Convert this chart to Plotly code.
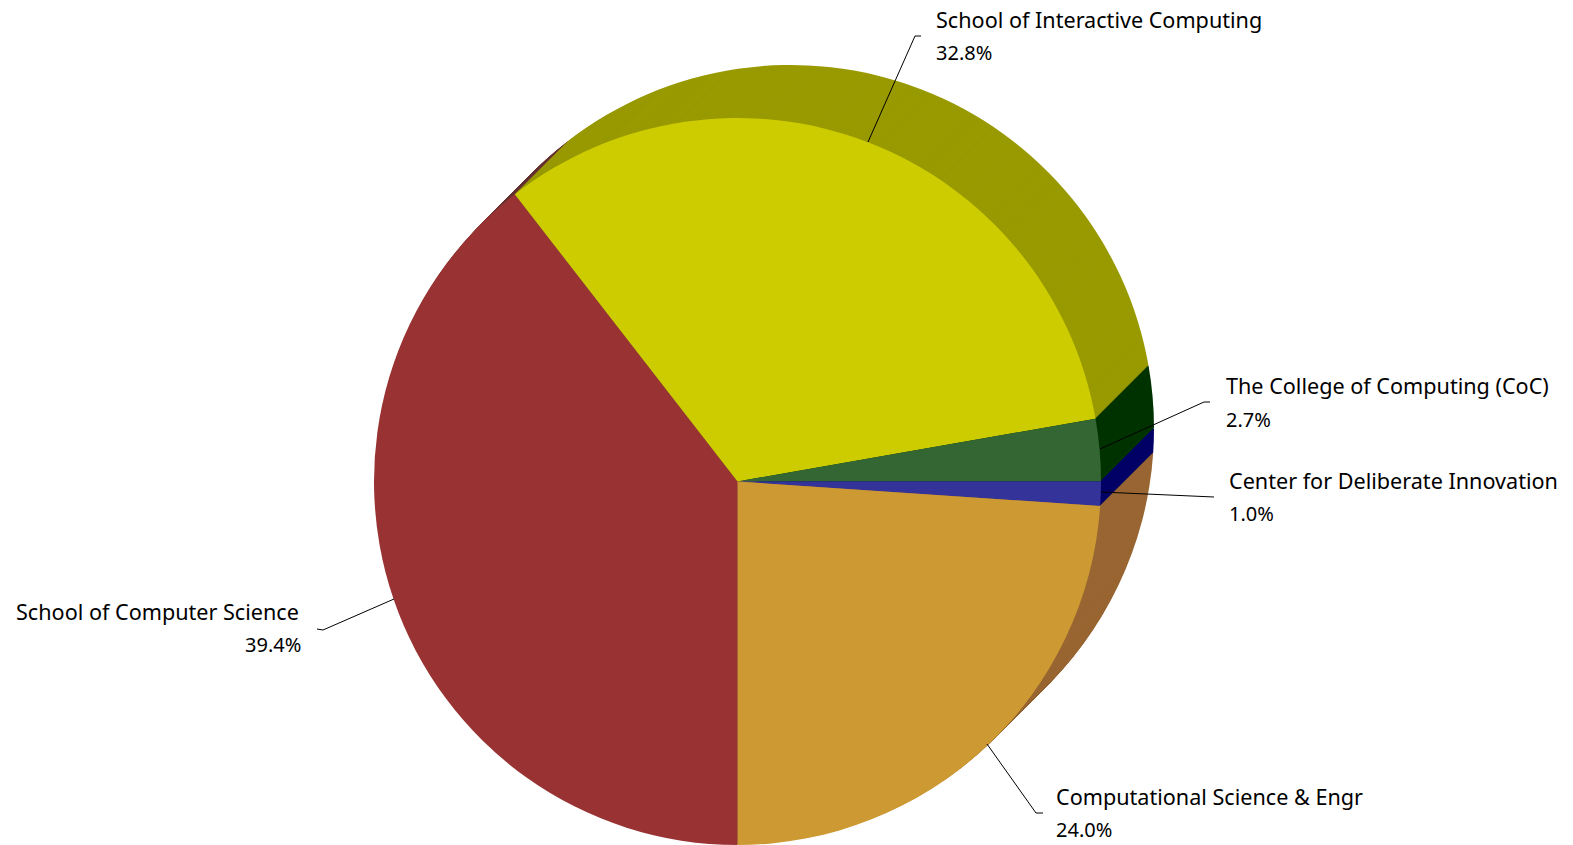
'''
    Pseudo 3D pie chart of the college units.
'''

import plotly.graph_objects as go

WIDTH = 1573
HEIGHT = 845

units = ['School of Computer Science', 'School of Interactive Computing',
         'The College of Computing (CoC)', 'Center for Deliberate Innovation',
         'Computational Science & Engr']
# slice sizes as measured on the drawn pie, the printed labels are rounded differently
shares = [39.5, 32.74, 2.76, 1.07, 23.93]
share_labels = ['39.4%', '32.8%', '2.7%', '1.0%', '24.0%']
front_colors = ['#993333', '#CCCC00', '#336633', '#333399', '#CC9933']
side_colors = ['#663333', '#999900', '#003300', '#000066', '#996633']

# pixel geometry of the pie
CENTER_X = 737.5
CENTER_Y = 481.5
RADIUS = 363.5
DEPTH_X = 53
DEPTH_Y = -53
DEPTH_STEPS = 53

# name position, percent position, anchor, leader line
label_layout = [
    ((301, 611), (303, 644), 'right', [(394, 599), (323, 630), (317, 629)]),
    ((934, 19), (934, 52), 'left', [(868, 142), (915, 36), (921, 36)]),
    ((1224, 385), (1224, 419), 'left', [(1100, 449), (1204, 402), (1210, 402)]),
    ((1227, 480), (1227, 513), 'left', [(1101, 492), (1214, 497)]),
    ((1054, 796), (1054, 829), 'left', [(987, 744), (1036, 813), (1043, 813)]),
]


def pie_trace(step, colors):
    '''
        One pie slice layer, moved along the depth direction.
    '''
    cx = CENTER_X + DEPTH_X * step / DEPTH_STEPS
    cy = CENTER_Y + DEPTH_Y * step / DEPTH_STEPS
    return go.Pie(
        labels=units,
        values=shares,
        sort=False,
        direction='clockwise',
        rotation=180,
        textinfo='none',
        hoverinfo='label',
        showlegend=False,
        marker={'colors': colors, 'line': {'width': 0}},
        domain={
            'x': [(cx - RADIUS) / WIDTH, (cx + RADIUS) / WIDTH],
            'y': [1 - (cy + RADIUS) / HEIGHT, 1 - (cy - RADIUS) / HEIGHT],
        },
    )


def add_labels(fig):
    '''
        Adds the two line labels and their leader lines.
    '''
    for unit, share, (name_xy, pct_xy, anchor, leader) in zip(units, share_labels, label_layout):
        for text, (x, y), size in ((unit, name_xy, 21.6), (share, pct_xy, 20)):
            fig.add_annotation(
                text=text, x=x / WIDTH, y=1 - y / HEIGHT,
                xref='paper', yref='paper',
                xanchor=anchor, yanchor='middle',
                showarrow=False,
                font={'family': 'Noto Sans', 'size': size, 'color': '#000000'},
            )
        path = 'M ' + ' L '.join(f'{x / WIDTH} {1 - y / HEIGHT}' for x, y in leader)
        fig.add_shape(type='path', path=path, xref='paper', yref='paper',
                      line={'color': '#000000', 'width': 1})


fig = go.Figure()
for step in range(DEPTH_STEPS, 0, -1):
    fig.add_trace(pie_trace(step, side_colors))
fig.add_trace(pie_trace(0, front_colors))

add_labels(fig)

fig.update_layout(
    width=WIDTH,
    height=HEIGHT,
    margin={'l': 0, 'r': 0, 't': 0, 'b': 0},
    paper_bgcolor='#FFFFFF',
)

fig.write_html('out.html', config={'displayModeBar': False},
               post_script="document.body.style.margin='0';")
